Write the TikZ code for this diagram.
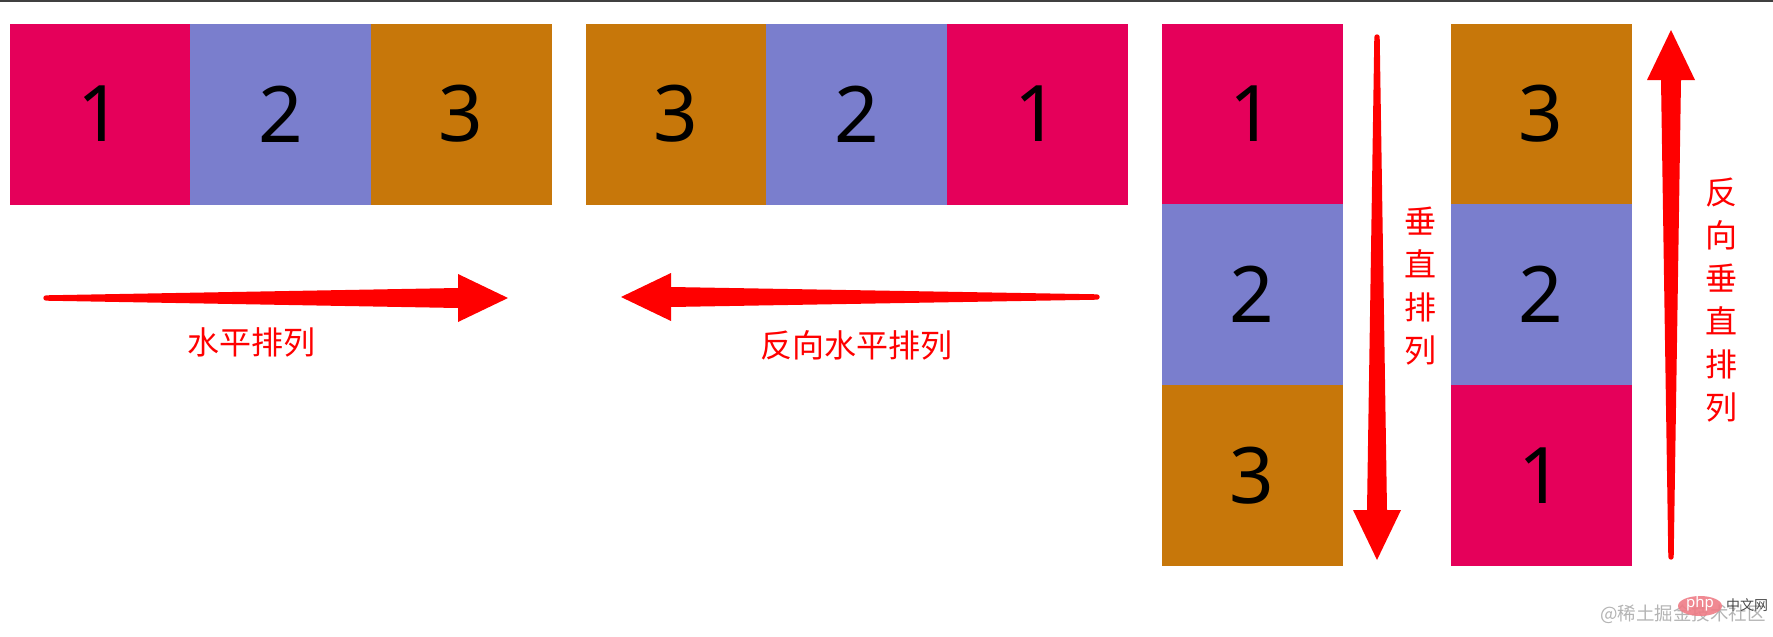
\documentclass[tikz,border=0pt]{standalone}
\usepackage{fontspec}
\setmainfont{Noto Sans}
\newfontfamily\cjk{Noto Sans CJK SC}
\usetikzlibrary{positioning}

\definecolor{boxred}{HTML}{E5005A}
\definecolor{boxblue}{HTML}{7A7ECD}
\definecolor{boxorange}{HTML}{C7770A}
\definecolor{arrowred}{HTML}{FF0000}
\definecolor{markgray}{HTML}{B4B4B4}
\definecolor{phppink}{HTML}{EE7C86}

% fat red arrow: tail x, tail y, angle, length
\newcommand{\fatarrow}[4]{%
  \fill[arrowred, shift={(#1,#2)}, rotate=#3]
    (0,2.7) arc[start angle=90, end angle=270, radius=2.7]
    -- (#4-50,-10) -- (#4-50,-24) -- (#4,0) -- (#4-50,24) -- (#4-50,10) -- cycle;}

\begin{document}
\begin{tikzpicture}[x=1pt, y=-1pt, node distance=0pt,
  cell/.style={minimum size=180pt, inner sep=0pt, fill=#1, draw=#1, line width=0.6pt,
    font=\fontsize{78}{78}\selectfont}]

\tikzstyle{tag}=[text=arrowred, inner sep=0pt, font=\cjk\fontsize{32}{43}\selectfont, align=center]

\useasboundingbox (0,0) rectangle (1773,637);
\draw[black!75, line width=1.5pt] (0,0.75) -- (1773,0.75);

% horizontal
\node[cell=boxred] (h1) at (100,114) {1};
\node[cell=boxblue, right=of h1] (h2) {2};
\node[cell=boxorange, right=of h2] (h3) {3};

% horizontal, reversed
\node[cell=boxorange] (r3) at (676,114) {3};
\node[cell=boxblue, right=of r3] (r2) {2};
\node[cell=boxred, right=of r2] (r1) {1};

% vertical
\node[cell=boxred] (v1) at (1252,114) {1};
\node[cell=boxblue, below=of v1] (v2) {2};
\node[cell=boxorange, below=of v2] (v3) {3};

% vertical, reversed
\node[cell=boxorange] (u3) at (1541,114) {3};
\node[cell=boxblue, below=of u3] (u2) {2};
\node[cell=boxred, below=of u2] (u1) {1};

% arrows
\fatarrow{46}{298}{0}{462}
\fatarrow{1097}{297}{180}{476}
\fatarrow{1377}{37}{-90}{523}
\fatarrow{1671}{557}{90}{527}

% labels
\node[tag] (hlab) at (251,342) {水平排列};
\node[tag] (rlab) at (856,345) {反向水平排列};
\node[tag] (vlab) at (1420,286) {垂\\直\\排\\列};
\node[tag] (ulab) at (1721,300) {反\\向\\垂\\直\\排\\列};

% watermark
\node[text=markgray, inner sep=0pt, font=\cjk\fontsize{18.5}{18.5}\selectfont] (wm) at (1683,614) {@稀土掘金技术社区};
\fill[phppink, opacity=0.9] (1700,606) ellipse [x radius=22, y radius=10];
\node[text=white, inner sep=0pt, font=\fontsize{15}{15}\selectfont] (php) at (1700,604) {php};
\node[text=black!70, inner sep=0pt, font=\cjk\fontsize{14}{14}\selectfont] (cn) at (1747,605) {中文网};

\end{tikzpicture}
\end{document}
